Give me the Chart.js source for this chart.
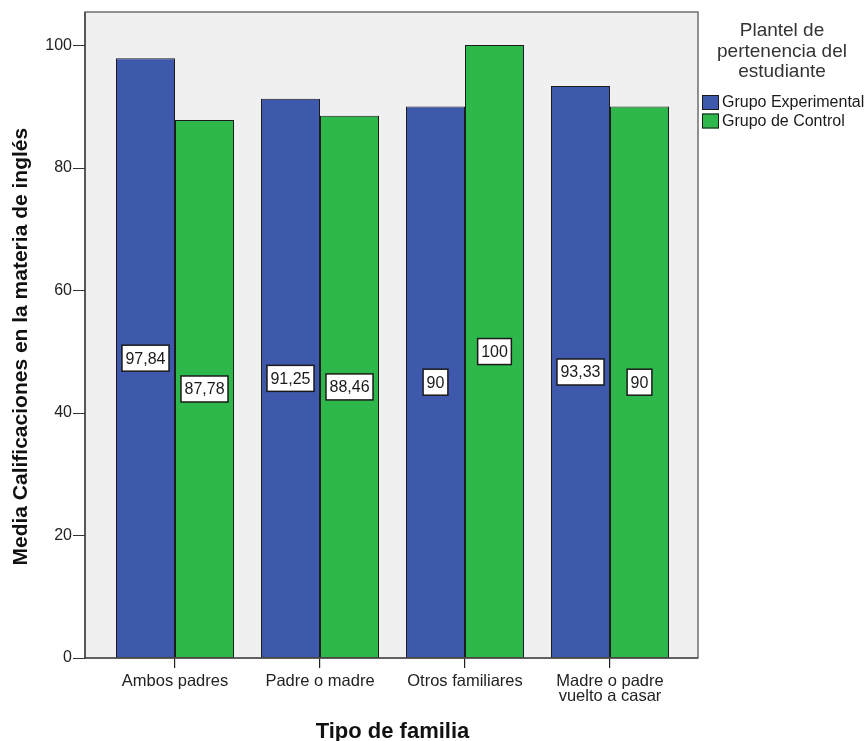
<!DOCTYPE html>
<html>
<head>
<meta charset="utf-8">
<style>
  html, body { margin: 0; padding: 0; background: #ffffff; }
  #wrap { width: 868px; height: 741px; position: relative; }
</style>
<script src="https://cdn.jsdelivr.net/npm/chart.js@4/dist/chart.umd.min.js"></script>
</head>
<body>
<div id="wrap"><canvas id="c" width="868" height="741"></canvas></div>
<script>
// ---- data ----
const categories = ['Ambos padres', 'Padre o madre', 'Otros familiares', ['Madre o padre', 'vuelto a casar']];
const seriesNames = ['Grupo Experimental', 'Grupo de Control'];
const experimental = [97.84, 91.25, 90, 93.33];
const control = [87.78, 88.46, 100, 90];
const yTicks = [0, 20, 40, 60, 80, 100];
const legendTitle = ['Plantel de', 'pertenencia del', 'estudiante'];
const xTitle = 'Tipo de familia';
const yTitle = 'Media Calificaciones en la materia de inglés';

const FONT = '"Liberation Sans", Arial, Helvetica, sans-serif';
const BLUE = '#3e58ac';
const GREEN = '#2eb84b';

// frame extends beyond the category band (SPSS-style inner margin)
const FRAME = { left: 85, right: 698 };

const framePlugin = {
  id: 'frame',
  beforeDraw(chart) {
    const { ctx, chartArea } = chart;
    ctx.save();
    ctx.fillStyle = '#f0f0f0';
    ctx.fillRect(FRAME.left, chartArea.top, FRAME.right - FRAME.left, chartArea.bottom - chartArea.top);
    ctx.restore();
  },
  afterDatasetsDraw(chart) {
    const { ctx, chartArea, scales } = chart;
    ctx.save();
    // frame
    ctx.strokeStyle = '#6e6e6e';
    ctx.lineWidth = 1.5;
    ctx.strokeRect(FRAME.left, chartArea.top, FRAME.right - FRAME.left, chartArea.bottom - chartArea.top);
    // axis lines
    ctx.strokeStyle = '#333333';
    ctx.lineWidth = 1.2;
    ctx.beginPath();
    ctx.moveTo(FRAME.left, chartArea.top);
    ctx.lineTo(FRAME.left, chartArea.bottom);
    ctx.lineTo(FRAME.right, chartArea.bottom);
    ctx.stroke();
    // y tick marks
    ctx.lineWidth = 1;
    ctx.strokeStyle = '#333333';
    scales.y.ticks.forEach(t => {
      const y = Math.round(scales.y.getPixelForValue(t.value)) + 0.5;
      ctx.beginPath();
      ctx.moveTo(FRAME.left - 12, y);
      ctx.lineTo(FRAME.left, y);
      ctx.stroke();
    });
    // data labels
    ctx.font = '16px ' + FONT;
    ctx.textAlign = 'center';
    ctx.textBaseline = 'middle';
    chart.data.datasets.forEach((ds, di) => {
      const meta = chart.getDatasetMeta(di);
      meta.data.forEach((bar, i) => {
        const txt = String(ds.data[i]).replace('.', ',');
        const w = ctx.measureText(txt).width + 7;
        const h = 26;
        const cx = bar.x;
        const cy = (bar.y + bar.base) / 2;
        ctx.fillStyle = '#ffffff';
        ctx.fillRect(cx - w / 2, cy - h / 2, w, h);
        ctx.strokeStyle = '#1a1a1a';
        ctx.lineWidth = 1.5;
        ctx.strokeRect(cx - w / 2, cy - h / 2, w, h);
        ctx.fillStyle = '#1a1a1a';
        ctx.fillText(txt, cx, cy + 1);
      });
    });
    // legend
    ctx.fillStyle = '#333333';
    ctx.font = '19px ' + FONT;
    legendTitle.forEach((line, i) => {
      ctx.fillText(line, 782, 31 + i * 20.5);
    });
    ctx.textAlign = 'left';
    ctx.font = '16px ' + FONT;
    chart.data.datasets.forEach((ds, di) => {
      const y = 95 + di * 18.5;
      ctx.fillStyle = ds.backgroundColor;
      ctx.fillRect(702, y, 17, 15);
      ctx.strokeStyle = '#1a1a1a';
      ctx.lineWidth = 1;
      ctx.strokeRect(702.5, y + 0.5, 16, 14);
      ctx.fillStyle = '#1a1a1a';
      ctx.fillText(ds.label, 722, y + 8);
    });
    ctx.restore();
  }
};

new Chart(document.getElementById('c'), {
  type: 'bar',
  data: {
    labels: categories,
    datasets: [
      { label: seriesNames[0], data: experimental, backgroundColor: BLUE, borderColor: '#1c1c1c', borderWidth: 1, borderSkipped: false },
      { label: seriesNames[1], data: control, backgroundColor: GREEN, borderColor: '#1c1c1c', borderWidth: 1, borderSkipped: false }
    ]
  },
  options: {
    responsive: false,
    animation: false,
    devicePixelRatio: 1,
    layout: { padding: { top: 12, right: 185.5, bottom: 0, left: 0 } },
    plugins: { legend: { display: false }, tooltip: { enabled: false } },
    datasets: { bar: { categoryPercentage: 0.814, barPercentage: 1 } },
    scales: {
      x: {
        afterFit(scale) { scale.height = 83; scale.paddingLeft = 0; scale.paddingRight = 0; },
        grid: { display: true, drawOnChartArea: false, drawTicks: true, tickLength: 10, offset: false, color: '#222222', lineWidth: 1.2 },
        border: { display: false },
        ticks: { color: '#222222', font: { family: FONT, size: 16.5, lineHeight: 0.92 }, padding: 6, maxRotation: 0, autoSkip: false },
        title: { display: true, text: xTitle, color: '#111111', font: { family: FONT, size: 22, weight: 'bold', lineHeight: 0.8 }, padding: 0 }
      },
      y: {
        min: 0,
        max: 105.4,
        afterFit(scale) { scale.width = 102.5; scale.paddingTop = 0; scale.paddingBottom = 0; },
        afterBuildTicks(scale) { scale.ticks = yTicks.map(v => ({ value: v })); },
        grid: { display: false, drawTicks: false },
        border: { display: false },
        ticks: { color: '#222222', font: { family: FONT, size: 16 }, padding: 30.5, stepSize: 20, includeBounds: false },
        title: { display: true, text: yTitle + '\u00a0\u00a0\u00a0\u00a0', color: '#111111', font: { family: FONT, size: 21, weight: 'bold', lineHeight: 1.2 }, padding: { top: 9, bottom: 0 } }
      }
    }
  },
  plugins: [framePlugin]
});
</script>
</body>
</html>
